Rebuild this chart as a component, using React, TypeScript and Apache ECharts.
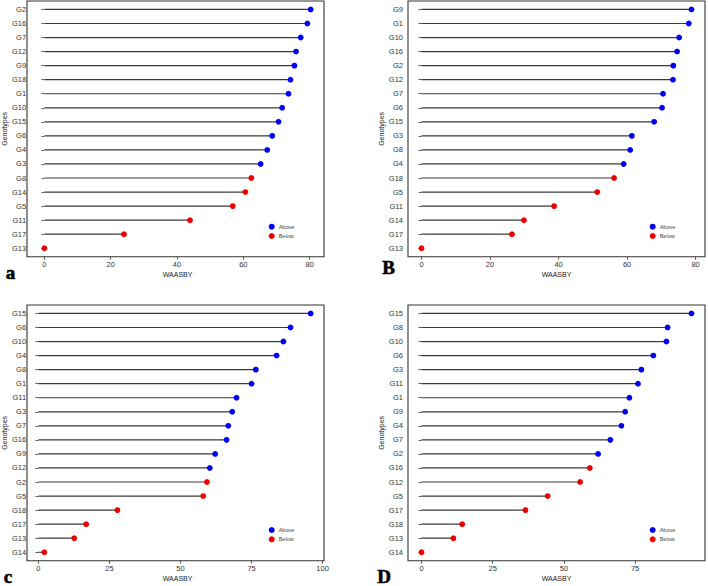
import React, { useEffect, useRef } from "react";
import * as echarts from "echarts";

// ---------- data ----------
const aGenotypes = ["G2","G16","G7","G12","G9","G18","G1","G10","G15","G6","G4","G3","G8","G14","G5","G11","G17","G13"];
const aValues = [80.3,79.3,77.3,75.9,75.4,74.2,73.6,71.7,70.6,68.7,67.2,65.2,62.4,60.6,56.8,43.9,24.0,0];
const aGroups = ["Above","Above","Above","Above","Above","Above","Above","Above","Above","Above","Above","Above","Below","Below","Below","Below","Below","Below"];
const aTicks = [0, 20, 40, 60, 80];

const bGenotypes = ["G9","G1","G10","G16","G2","G12","G7","G6","G15","G3","G8","G4","G18","G5","G11","G14","G17","G13"];
const bValues = [78.8,78.0,75.2,74.6,73.5,73.4,70.5,70.2,67.9,61.4,60.9,59.0,56.2,51.3,38.7,29.9,26.4,0];
const bGroups = ["Above","Above","Above","Above","Above","Above","Above","Above","Above","Above","Above","Above","Below","Below","Below","Below","Below","Below"];
const bTicks = [0, 20, 40, 60, 80];

const cGenotypes = ["G15","G6","G10","G4","G8","G1","G11","G3","G7","G16","G9","G12","G2","G5","G18","G17","G13","G14"];
const cValues = [95.8,88.7,86.2,83.8,76.5,75.0,69.7,68.2,66.8,66.2,62.2,60.3,59.3,58.0,27.8,16.8,12.6,2.1];
const cGroups = ["Above","Above","Above","Above","Above","Above","Above","Above","Above","Above","Above","Above","Below","Below","Below","Below","Below","Below"];
const cTicks = [0, 25, 50, 75, 100];

const dGenotypes = ["G15","G8","G10","G6","G3","G11","G1","G9","G4","G7","G2","G16","G12","G5","G17","G18","G13","G14"];
const dValues = [94.8,86.4,86.0,81.4,77.2,76.0,73.0,71.5,70.2,66.3,62.0,59.1,55.7,44.3,36.5,14.3,11.2,0];
const dGroups = ["Above","Above","Above","Above","Above","Above","Above","Above","Above","Above","Above","Below","Below","Below","Below","Below","Below","Below"];
const dTicks = [0, 25, 50, 75];

const panelLetters = ["a", "B", "c", "D"];
const groupNames = ["Above", "Below"];
const xTitle = "WAASBY";
const yTitle = "Genotypes";

// ---------- layout / style ----------
const boxes = [
  { x: 27, y: 1, w: 297, h: 255.7 },
  { x: 408, y: 1, w: 297, h: 255.7 },
  { x: 27, y: 305, w: 297, h: 255.7 },
  { x: 408, y: 305, w: 297, h: 255.7 },
];
const legendPos = [
  { x: 271.7, y: 227.7 },
  { x: 652.7, y: 227.7 },
  { x: 271.7, y: 531 },
  { x: 652.7, y: 531 },
];
const letterPos = [
  { x: 10.5, y: 272 },
  { x: 388.5, y: 267 },
  { x: 8, y: 576 },
  { x: 384, y: 576 },
];
const COLORS: Record<string, string> = { Above: "#0000ee", Below: "#ee0000" };
const FONT = "Liberation Sans";

const panels = [
  { g: aGenotypes, v: aValues, grp: aGroups, ticks: aTicks },
  { g: bGenotypes, v: bValues, grp: bGroups, ticks: bTicks },
  { g: cGenotypes, v: cValues, grp: cGroups, ticks: cTicks },
  { g: dGenotypes, v: dValues, grp: dGroups, ticks: dTicks },
];

export default function App() {
  const ref = useRef<HTMLDivElement>(null);
  useEffect(() => {
    if (!ref.current) return;
    const chart = echarts.init(ref.current, undefined, { renderer: "svg" });
    const grids: any[] = [];
    const xAxes: any[] = [];
    const yAxes: any[] = [];
    const series: any[] = [];
    const legends: any[] = [];
    const graphics: any[] = [];

    panels.forEach((p, i) => {
      const b = boxes[i];
      const s = b.h / 18.2;
      grids.push({ left: b.x, top: b.y + 0.1 * s, width: b.w, height: 18 * s, containLabel: false });
      const mn = Math.min(...p.v);
      const mx = Math.max(...p.v);
      const r = mx - mn;
      xAxes.push({
        type: "value",
        gridIndex: i,
        min: mn - 0.05 * r,
        max: mx + 0.05 * r,
        offset: 0.1 * s,
        splitLine: { show: false },
        axisLine: { show: false },
        axisTick: { show: true, length: 3, customValues: p.ticks, lineStyle: { color: "#333", width: 0.8 } },
        axisLabel: { customValues: p.ticks, fontSize: 7.5, color: "#333", fontFamily: FONT, margin: 4 },
        name: xTitle,
        nameLocation: "middle",
        nameGap: 14,
        nameTextStyle: { fontSize: 7, color: "#222", fontFamily: FONT },
      });
      yAxes.push({
        type: "category",
        gridIndex: i,
        data: p.g,
        inverse: true,
        axisLine: { show: false },
        axisTick: { show: true, length: 3, alignWithLabel: true, lineStyle: { color: "#333", width: 0.8 } },
        axisLabel: { fontSize: 7.5, color: "#333", fontFamily: FONT, margin: 5 },
        splitLine: { show: false },
        name: yTitle,
        nameLocation: "middle",
        nameGap: 19,
        nameTextStyle: { fontSize: 7, color: "#222", fontFamily: FONT },
      });
      series.push({
        type: "bar",
        xAxisIndex: i,
        yAxisIndex: i,
        data: p.v,
        barWidth: 1.2,
        silent: true,
        itemStyle: { color: "#3a3a3a" },
      });
      groupNames.forEach((gn) => {
        series.push({
          type: "scatter",
          name: gn,
          xAxisIndex: i,
          yAxisIndex: i,
          symbol: "circle",
          symbolSize: 5.8,
          itemStyle: { color: COLORS[gn], opacity: 1 },
          data: p.g.map((name, k) => (p.grp[k] === gn ? [p.v[k], name] : null)).filter((d) => d !== null),
          z: 5,
        });
      });
      const lp = legendPos[i];
      legends.push({
        orient: "vertical",
        left: lp.x - 3,
        top: lp.y - 4,
        padding: 0,
        itemGap: 3.3,
        itemWidth: 6,
        itemHeight: 6,
        icon: "circle",
        data: groupNames,
        itemStyle: { opacity: 1 },
        textStyle: { fontSize: 5.5, color: "#444", fontFamily: FONT, padding: [0, 0, 0, -1] },
      });
      graphics.push({
        type: "rect",
        shape: { x: b.x, y: b.y, width: b.w, height: b.h },
        style: { fill: "none", stroke: "#333", lineWidth: 1.1 },
        silent: true,
        z: 10,
      });
      graphics.push({
        type: "text",
        x: letterPos[i].x,
        y: letterPos[i].y,
        style: {
          text: panelLetters[i],
          fontSize: 19,
          fontWeight: "bold",
          fontFamily: "Liberation Serif",
          fill: "#000",
          stroke: "#000",
          lineWidth: 0.6,
          align: "center",
          verticalAlign: "middle",
        },
        z: 10,
      });
    });

    chart.setOption({
      animation: false,
      backgroundColor: "#fff",
      grid: grids,
      xAxis: xAxes,
      yAxis: yAxes,
      legend: legends,
      series,
      graphic: graphics,
    });
    return () => chart.dispose();
  }, []);
  return (
    <div
      ref={ref}
      style={{ position: "fixed", left: 0, top: 0, width: 708, height: 586, background: "#fff" }}
    />
  );
}
